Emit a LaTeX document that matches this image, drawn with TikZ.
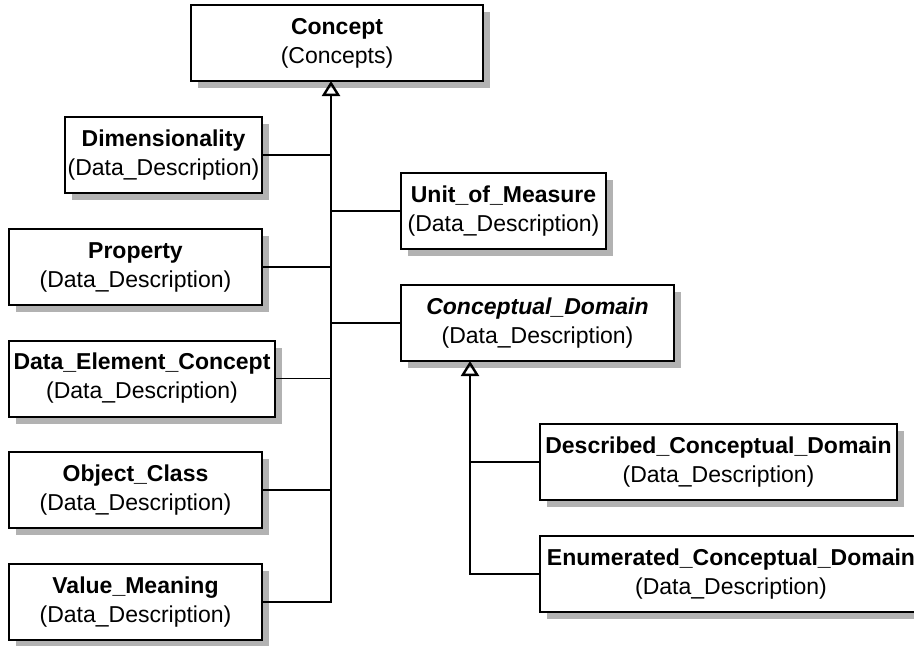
\documentclass[tikz,border=0pt]{standalone}
\usepackage{fontspec}
\setmainfont{Liberation Sans}
\usetikzlibrary{arrows.meta,shadows}

\begin{document}
\begin{tikzpicture}[x=0.5pt, y=-0.5pt,
	cls/.style={draw, line width=1pt, fill=white, align=center, inner sep=0pt, minimum height=38pt, font=\fontsize{11.5}{14.5}\selectfont, drop shadow={shadow xshift=3.5pt, shadow yshift=-3.5pt, fill=black!30, opacity=1}},
	isa/.style={line width=1.2pt, -{Triangle[open, width=9pt, length=7.5pt]}},
	br/.style={line width=0.9pt}]
	\useasboundingbox (0,0) rectangle (914,645);
	\clip (0,0) rectangle (914,645);
	\node[cls, minimum width=146pt] (concept) at (337,43) {\textbf{Concept}\\(Concepts)};
	\node[cls, minimum width=98.5pt] (dim) at (163.5,155) {\textbf{Dimensionality}\\(Data\_Description)};
	\node[cls, minimum width=102.5pt] (unit) at (503.5,211) {\textbf{Unit\_of\_Measure}\\(Data\_Description)};
	\node[cls, minimum width=126.5pt] (prop) at (135.5,267) {\textbf{Property}\\(Data\_Description)};
	\node[cls, minimum width=136.5pt] (cdom) at (537.5,323) {\textbf{\textit{Conceptual\_Domain}}\\(Data\_Description)};
	\node[cls, minimum width=133pt] (dec) at (142,378.5) {\textbf{Data\_Element\_Concept}\\(Data\_Description)};
	\node[cls, minimum width=126.5pt] (ocls) at (135.5,490) {\textbf{Object\_Class}\\(Data\_Description)};
	\node[cls, minimum width=126.5pt] (vmean) at (135.5,602) {\textbf{Value\_Meaning}\\(Data\_Description)};
	\node[cls, minimum width=178.5pt] (dcd) at (718.5,462) {\textbf{Described\_Conceptual\_Domain}\\(Data\_Description)};
	\node[cls, minimum width=191pt] (ecd) at (731,574) {\textbf{Enumerated\_Conceptual\_Domain}\\(Data\_Description)};
	\coordinate (ctop) at (331,81);
	\coordinate (dtop) at (470,361);
	\draw[isa] (vmean.east) -| (ctop);
	\draw[br] (dim.east) -- (dim.east -| ctop);
	\draw[br] (prop.east) -- (prop.east -| ctop);
	\draw[br] (dec.east) -- (dec.east -| ctop);
	\draw[br] (ocls.east) -- (ocls.east -| ctop);
	\draw[br] (unit.west) -- (unit.west -| ctop);
	\draw[br] (cdom.west) -- (cdom.west -| ctop);
	\draw[isa] (ecd.west) -| (dtop);
	\draw[br] (dcd.west) -- (dcd.west -| dtop);
\end{tikzpicture}
\end{document}
